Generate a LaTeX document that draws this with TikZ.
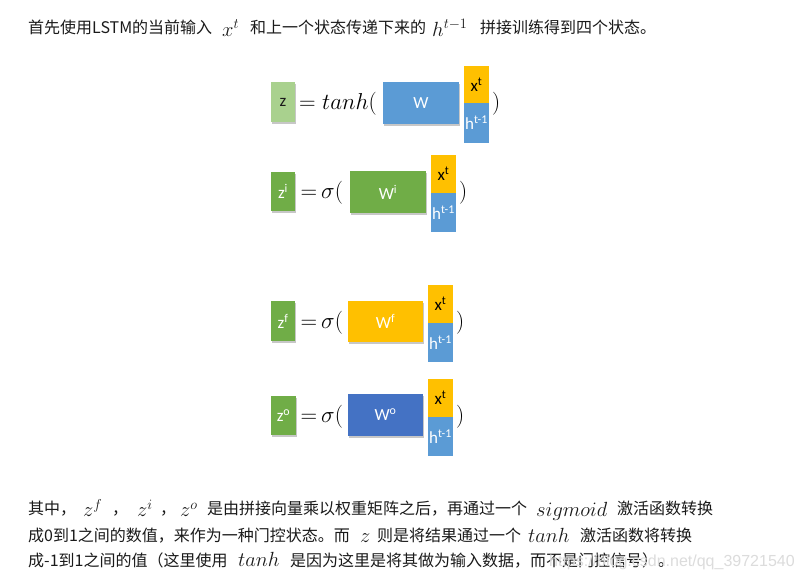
\RequirePackage{fix-cm}
\documentclass[tikz,border=0pt]{standalone}
\usepackage[no-math]{fontspec}
\setmainfont{Carlito}
\newfontfamily\cjk{Noto Sans CJK SC}
\newfontfamily\wmfont{Liberation Sans}
\usetikzlibrary{shadows}
\definecolor{lgreen}{HTML}{A9D18E}
\definecolor{mgreen}{HTML}{70AD47}
\definecolor{mblue}{HTML}{5B9BD5}
\definecolor{dblue}{HTML}{4472C4}
\definecolor{myellow}{HTML}{FFC000}
\definecolor{txt}{HTML}{1A1A1A}
\definecolor{wm}{HTML}{DCDCDC}
\tikzset{
  cjktext/.style={anchor=base west, inner sep=0pt, text=txt, font=\cjk\fontsize{16}{19}\selectfont},
  mathtext/.style={anchor=base west, inner sep=0pt, text=txt, font=\fontsize{20.5}{24}\selectfont},
  eqtext/.style={anchor=base west, inner sep=0pt, text=black, font=\fontsize{23}{27}\selectfont},
  shadowbox/.style={drop shadow={opacity=0.22, shadow xshift=1pt, shadow yshift=-1.5pt, fill=black}},
  boxbase/.style={inner sep=0pt, font=\fontsize{17}{20}\selectfont},
  zbox/.style={boxbase, shadowbox, minimum width=24pt, minimum height=40pt, text=white, fill=mgreen},
  wbox/.style={boxbase, shadowbox, minimum width=76pt, minimum height=42pt, text=white},
  xbox/.style={boxbase, minimum width=25pt, minimum height=38pt, fill=myellow, text=black},
  hbox/.style={boxbase, minimum width=25pt, minimum height=39pt, fill=mblue, text=white},
}
\begin{document}
\begin{tikzpicture}[x=1pt,y=-1pt]
\useasboundingbox (0,0) rectangle (801,582);
\fill[white] (0,0) rectangle (801,582);

% top line
\node[cjktext] (t1) at (28,33.5) {首先使用LSTM的当前输入};
\node[mathtext] (t1m) at (222,36) {$x^t$};
\node[cjktext] (t2) at (250,33.5) {和上一个状态传递下来的};
\node[mathtext] (t2m) at (432,36) {$h^{t-1}$};
\node[cjktext] (t3) at (480,33.5) {拼接训练得到四个状态。};

% row 1
\node[zbox, fill=lgreen, text=txt] (z) at (283,102) {z};
\node[eqtext] (eq1) at (299,109) {$=$};
\node[eqtext] (f1) at (322,109) {$tanh($};
\node[wbox, fill=mblue] (w) at (421,103) {W};
\node[xbox, minimum height=37pt] (x1) at (476.5,84.5) {x\textsuperscript{t}};
\node[hbox, minimum height=40pt] (h1) at (476.5,123) {h\textsuperscript{t-1}};
\node[eqtext] (p1) at (492,109) {$)$};

% row 2
\node[zbox, minimum height=39pt] (zi) at (283,191.5) {z\textsuperscript{i}};
\node[eqtext] (eq2) at (300.5,198.5) {$=$};
\node[eqtext] (f2) at (321,198.5) {$\sigma($};
\node[wbox, fill=mgreen] (wi) at (388,192) {W\textsuperscript{i}};
\node[xbox] (x2) at (443.5,174) {x\textsuperscript{t}};
\node[hbox] (h2) at (443.5,212.5) {h\textsuperscript{t-1}};
\node[eqtext] (p2) at (459,198.5) {$)$};

% row 3
\node[zbox] (zf) at (283,321) {z\textsuperscript{f}};
\node[eqtext] (eq3) at (300.5,328) {$=$};
\node[eqtext] (f3) at (321,328) {$\sigma($};
\node[wbox, fill=myellow, minimum width=75pt, minimum height=41pt] (wf) at (385.5,321.5) {W\textsuperscript{f}};
\node[xbox] (x3) at (440.5,304) {x\textsuperscript{t}};
\node[hbox] (h3) at (440.5,342.5) {h\textsuperscript{t-1}};
\node[eqtext] (p3) at (456,328) {$)$};

% row 4
\node[zbox, minimum width=25pt, minimum height=39pt] (zo) at (283.5,415.5) {z\textsuperscript{o}};
\node[eqtext] (eq4) at (300.5,422) {$=$};
\node[eqtext] (f4) at (321,422) {$\sigma($};
\node[wbox, fill=dblue, minimum width=75pt] (wo) at (385.5,415) {W\textsuperscript{o}};
\node[xbox] (x4) at (440.5,398) {x\textsuperscript{t}};
\node[hbox] (h4) at (440.5,436.5) {h\textsuperscript{t-1}};
\node[eqtext] (p4) at (456,422) {$)$};

% bottom line 1
\node[cjktext] (b1a) at (28,514.5) {其中，};
\node[mathtext] (b1m1) at (83,516.5) {$z^f$};
\node[cjktext] (b1c1) at (112,514.5) {，};
\node[mathtext] (b1m2) at (137,516.5) {$z^i$};
\node[cjktext] (b1c2) at (160,514.5) {，};
\node[mathtext] (b1m3) at (180,516.5) {$z^o$};
\node[cjktext] (b1b) at (207,514.5) {是由拼接向量乘以权重矩阵之后，再通过一个};
\node[mathtext] (b1m4) at (536,516.5) {$sigmoid$};
\node[cjktext] (b1c) at (617,514.5) {激活函数转换};

% bottom line 2
\node[cjktext] (b2a) at (28,541.5) {成0到1之间的数值，来作为一种门控状态。而};
\node[mathtext] (b2m1) at (360,542) {$z$};
\node[cjktext] (b2b) at (377,541.5) {则是将结果通过一个};
\node[mathtext] (b2m2) at (528,542) {$tanh$};
\node[cjktext] (b2c) at (580,541.5) {激活函数将转换};

% bottom line 3
\node[cjktext] (b3a) at (28,566) {成-1到1之间的值（这里使用};
\node[mathtext] (b3m) at (238,566) {$tanh$};
\node[cjktext] (b3b) at (290,566) {是因为这里是将其做为输入数据，而不是门控信号）。};

% watermark
\node[anchor=base west, inner sep=0pt, text=wm, font=\wmfont\fontsize{16}{19}\selectfont] (wmk) at (549,566) {https://blog.csdn.net/qq\_39721540};
\end{tikzpicture}
\end{document}
